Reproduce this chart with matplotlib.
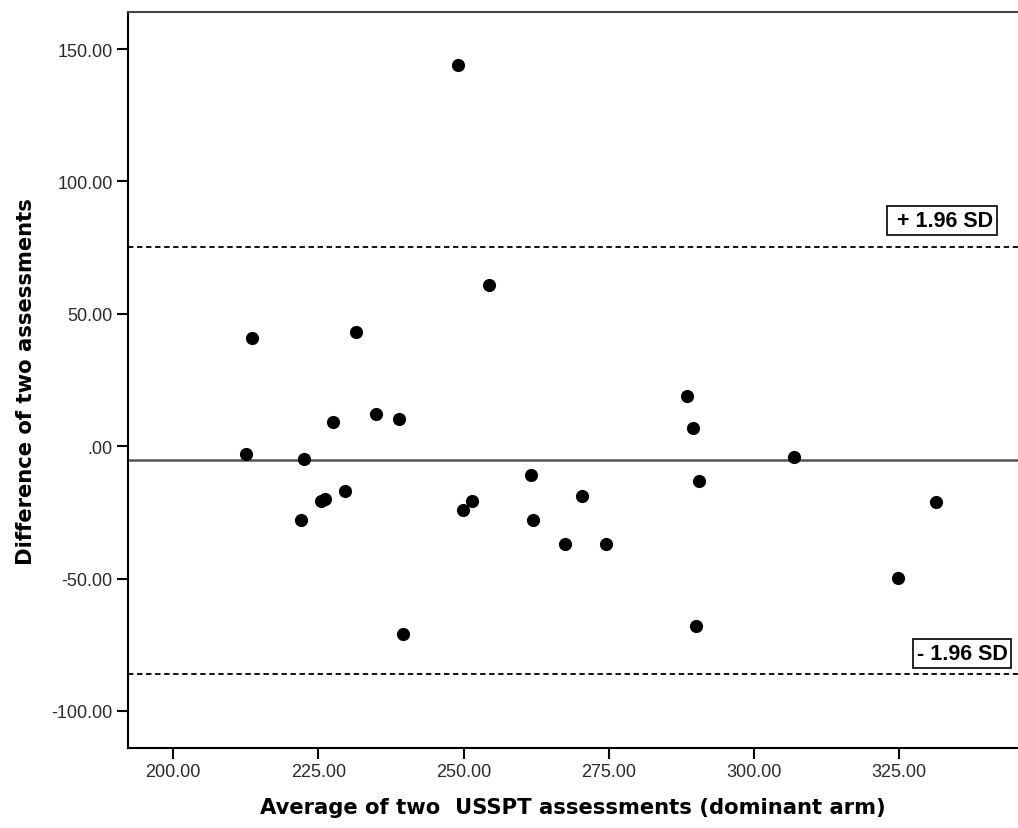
import matplotlib
matplotlib.use("Agg")
import matplotlib.pyplot as plt
from matplotlib.ticker import FuncFormatter

# average of two assessments (x) and their difference (y)
avg_vals = [249.0, 213.5, 231.5, 254.4, 212.5, 222.5, 227.5, 235.0, 238.9,
            222.0, 225.4, 226.1, 229.6, 239.5, 249.9, 251.5, 261.6, 262.0,
            270.4, 267.5, 274.5, 288.5, 289.5, 290.5, 290.0, 307.0, 324.9,
            331.4]
diff_vals = [144.1, 41.0, 43.2, 61.0, -2.8, -4.8, 9.1, 12.0, 10.2,
             -27.9, -20.8, -19.9, -16.9, -70.9, -24.1, -20.8, -10.9, -28.0,
             -18.9, -36.9, -36.9, 19.1, 7.0, -13.0, -67.9, -4.0, -49.9,
             -21.0]

mean_diff = -5.3
upper_loa = 75.4
lower_loa = -86.0

x_ticks = [200, 225, 250, 275, 300, 325]
y_ticks = [-100, -50, 0, 50, 100, 150]

plt.rcParams['font.family'] = ['Liberation Sans', 'DejaVu Sans']

fig = plt.figure(figsize=(10.18, 8.29), dpi=100)
ax = fig.add_axes([0.1257, 0.0965, 0.8743, 0.8875])

ax.scatter(avg_vals, diff_vals, s=90, color='black', zorder=3, linewidths=0)

ax.axhline(mean_diff, color='#555555', lw=1.8, zorder=2)
ax.axhline(upper_loa, color='black', lw=1.3, ls=(0, (3, 2)), zorder=2)
ax.axhline(lower_loa, color='black', lw=1.3, ls=(0, (3, 2)), zorder=2)

box = dict(boxstyle='square,pad=0.18', facecolor='white', edgecolor='black', lw=1.2)
ax.text(341.2, 85.2, ' + 1.96 SD', ha='right', va='center', fontsize=15.5,
        fontweight='bold', bbox=box)
ax.text(343.7, -78.3, '- 1.96 SD', ha='right', va='center', fontsize=15.5,
        fontweight='bold', bbox=box)

ax.set_xlim(192.2, 345.5)
ax.set_ylim(-114.0, 163.9)
ax.set_xticks(x_ticks)
ax.set_yticks(y_ticks)

def fmt(v, pos):
    s = "{:.2f}".format(v)
    if s.startswith("0"):
        s = s[1:]
    return s

ax.xaxis.set_major_formatter(FuncFormatter(fmt))
ax.yaxis.set_major_formatter(FuncFormatter(fmt))
ax.tick_params(direction='out', length=8, width=1.5, labelsize=13,
               colors='black', labelcolor='#2a2a2a', pad=3)

for side in ['left', 'bottom']:
    ax.spines[side].set_linewidth(1.5)
    ax.spines[side].set_color('black')
ax.spines['top'].set_linewidth(1.5)
ax.spines['top'].set_color('#444444')
ax.spines['right'].set_visible(False)

ax.set_xlabel('Average of two  USSPT assessments (dominant arm)', fontsize=15.2,
              fontweight='bold', family=['DejaVu Sans'], labelpad=12)
ax.set_ylabel('Difference of two assessments', fontsize=15.2,
              fontweight='bold', family=['DejaVu Sans'], labelpad=11)

fig.savefig('out.png', dpi=100)
